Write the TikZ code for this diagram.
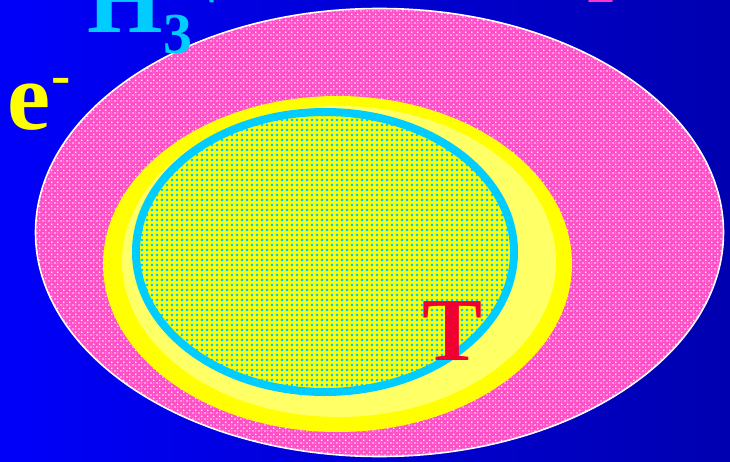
\documentclass[tikz,border=0pt]{standalone}
\usepackage{fontspec}
\setmainfont{Liberation Serif}
\usetikzlibrary{patterns.meta}
\definecolor{bgleft}{RGB}{0,0,250}
\definecolor{bgright}{RGB}{0,0,176}
\definecolor{pinkbase}{RGB}{255,80,200}
\definecolor{cyanring}{RGB}{0,204,255}
\definecolor{yelband}{RGB}{255,255,0}
\definecolor{yellight}{RGB}{255,255,102}
\definecolor{tred}{RGB}{240,0,50}
\definecolor{magtext}{RGB}{255,51,204}
\tikzdeclarepattern{
  name=pinkdots, type=uncolored,
  bottom left={(0pt,0pt)}, top right={(6pt,6pt)}, tile size={(6pt,6pt)},
  code={\fill (0.5pt,0.5pt) rectangle (2pt,2pt);
        \fill (3.5pt,3.5pt) rectangle (5pt,5pt);
        \fill (3.8pt,0.8pt) rectangle (4.7pt,1.7pt);}
}
\tikzdeclarepattern{
  name=cyandots, type=uncolored,
  bottom left={(0pt,0pt)}, top right={(5pt,5pt)}, tile size={(5pt,5pt)},
  code={\fill (1pt,1pt) rectangle (3.8pt,3.8pt);}
}
\tikzset{
  bigtext/.style={inner sep=0pt, anchor=base west, font=\bfseries\fontsize{97}{97}\selectfont},
  smalltext/.style={inner sep=0pt, anchor=base west, font=\bfseries\fontsize{58}{58}\selectfont}
}
\begin{document}
\begin{tikzpicture}[x=1pt,y=-1pt]
\useasboundingbox (0,0) rectangle (730,462);
\clip (0,0) rectangle (730,462);
\shade[left color=bgleft, right color=bgright] (0,0) rectangle (730,462);
% outer pink ellipse
\fill[pinkbase] (379.5,232.5) ellipse [x radius=344, y radius=224];
\fill[pattern=pinkdots, pattern color=white] (379.5,232.5) ellipse [x radius=344, y radius=224];
\draw[white, line width=1.6pt] (379.5,232.5) ellipse [x radius=344, y radius=224];
% yellow ellipses
\fill[yelband] (337.5,264) ellipse [x radius=234.5, y radius=168];
\fill[yellight] (339,261.5) ellipse [x radius=217, y radius=155.5];
% cyan dotted ellipse
\fill[yelband] (325,252) ellipse [x radius=189, y radius=140];
\fill[pattern=cyandots, pattern color=cyanring] (325,252) ellipse [x radius=189, y radius=140];
\draw[cyanring, line width=8pt] (325,252) ellipse [x radius=189, y radius=140];
% texts
\node[bigtext, text=cyanring] (h) at (87,33) {H};
\node[smalltext, text=cyanring] (three) at (163,54) {3};
\node[smalltext, text=cyanring] (plus) at (195,9) {+};
\node[bigtext, text=yelband] (e) at (7,130) {e};
\node[smalltext, text=yelband] (minus) at (51,95) {-};
\node[smalltext, text=magtext] (two) at (586,3) {2};
\node[bigtext, text=tred, font=\bfseries\fontsize{90}{90}\selectfont] (t) at (422,360) {T};
\end{tikzpicture}
\end{document}
